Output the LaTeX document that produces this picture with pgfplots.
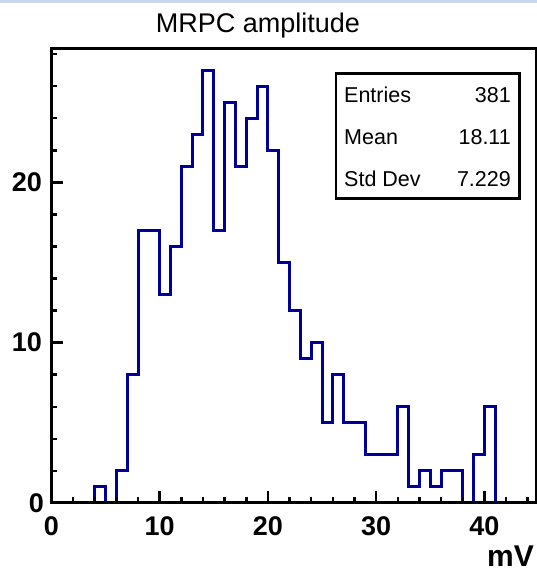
\documentclass[border=0pt]{standalone}
\usepackage{fontspec}
\setmainfont{Liberation Sans}
\usepackage{pgfplots}
\pgfplotsset{compat=1.18}
\definecolor{histblue}{RGB}{0,0,153}
\definecolor{topband}{RGB}{200,214,240}
\begin{document}
\begin{tikzpicture}[x=1pt,y=1pt]
\useasboundingbox (0,0) rectangle (537,570);
\fill[topband] (0,567) rectangle (537,570);
\node[anchor=base, inner sep=0pt, font=\fontsize{27}{30}\selectfont] at (258,537) {MRPC amplitude};
\begin{axis}[
  at={(51.4pt,67pt)}, anchor=south west,
  scale only axis, width=485pt, height=454.5pt,
  xmin=0, xmax=44.8, ymin=0, ymax=28.35,
  axis on top,
  line width=3pt,
  xtick={0,10,20,30,40}, ytick={0,10,20},
  xticklabels={\raisebox{5pt}{0},10,20,30,40},
  yticklabels={\raisebox{-4pt}{0}\kern-2pt,10,20},
  minor xtick={2,4,6,8,12,14,16,18,22,24,26,28,32,34,36,38,42,44},
  minor ytick={2,4,6,8,12,14,16,18,22,24,26,28},
  xtick pos=left, ytick pos=left,
  tick align=inside,
  major tick length=12pt, minor tick length=6pt,
  tick style={line width=2.5pt, black},
  /pgf/number format/assume math mode=true,
  ticklabel style={font=\fontsize{27}{30}\selectfont\bfseries, inner sep=0pt},
  xticklabel style={anchor=north, yshift=-12pt},
  yticklabel style={anchor=east, xshift=-8pt},
]
\addplot[const plot mark left, histblue, line width=3pt, mark=none] coordinates {
(3,0) (4,1) (5,0) (6,2) (7,8) (8,17) (9,17) (10,13) (11,16) (12,21)
(13,23) (14,27) (15,17) (16,25) (17,21) (18,24) (19,26) (20,22) (21,15)
(22,12) (23,9) (24,10) (25,5) (26,8) (27,5) (28,5) (29,3) (30,3) (31,3)
(32,6) (33,1) (34,2) (35,1) (36,2) (37,2) (38,0) (39,3) (40,6) (41,0) (42,0)
};
\end{axis}
\node[anchor=base east, inner sep=0pt, font=\fontsize{30}{32}\selectfont\bfseries] at (534,3.3) {mV};
\draw[line width=2.5pt, fill=white] (336,496.7) rectangle (519.4,371.7);
\begin{scope}[every node/.style={inner sep=0pt, font=\fontsize{21.5}{24}\selectfont}]
\node[anchor=base west] at (344,467) {Entries};
\node[anchor=base east] at (511,467) {381};
\node[anchor=base west] at (344,425) {Mean};
\node[anchor=base east] at (511,425) {18.11};
\node[anchor=base west] at (344,383) {Std Dev};
\node[anchor=base east] at (511,383) {7.229};
\end{scope}
\end{tikzpicture}
\end{document}
